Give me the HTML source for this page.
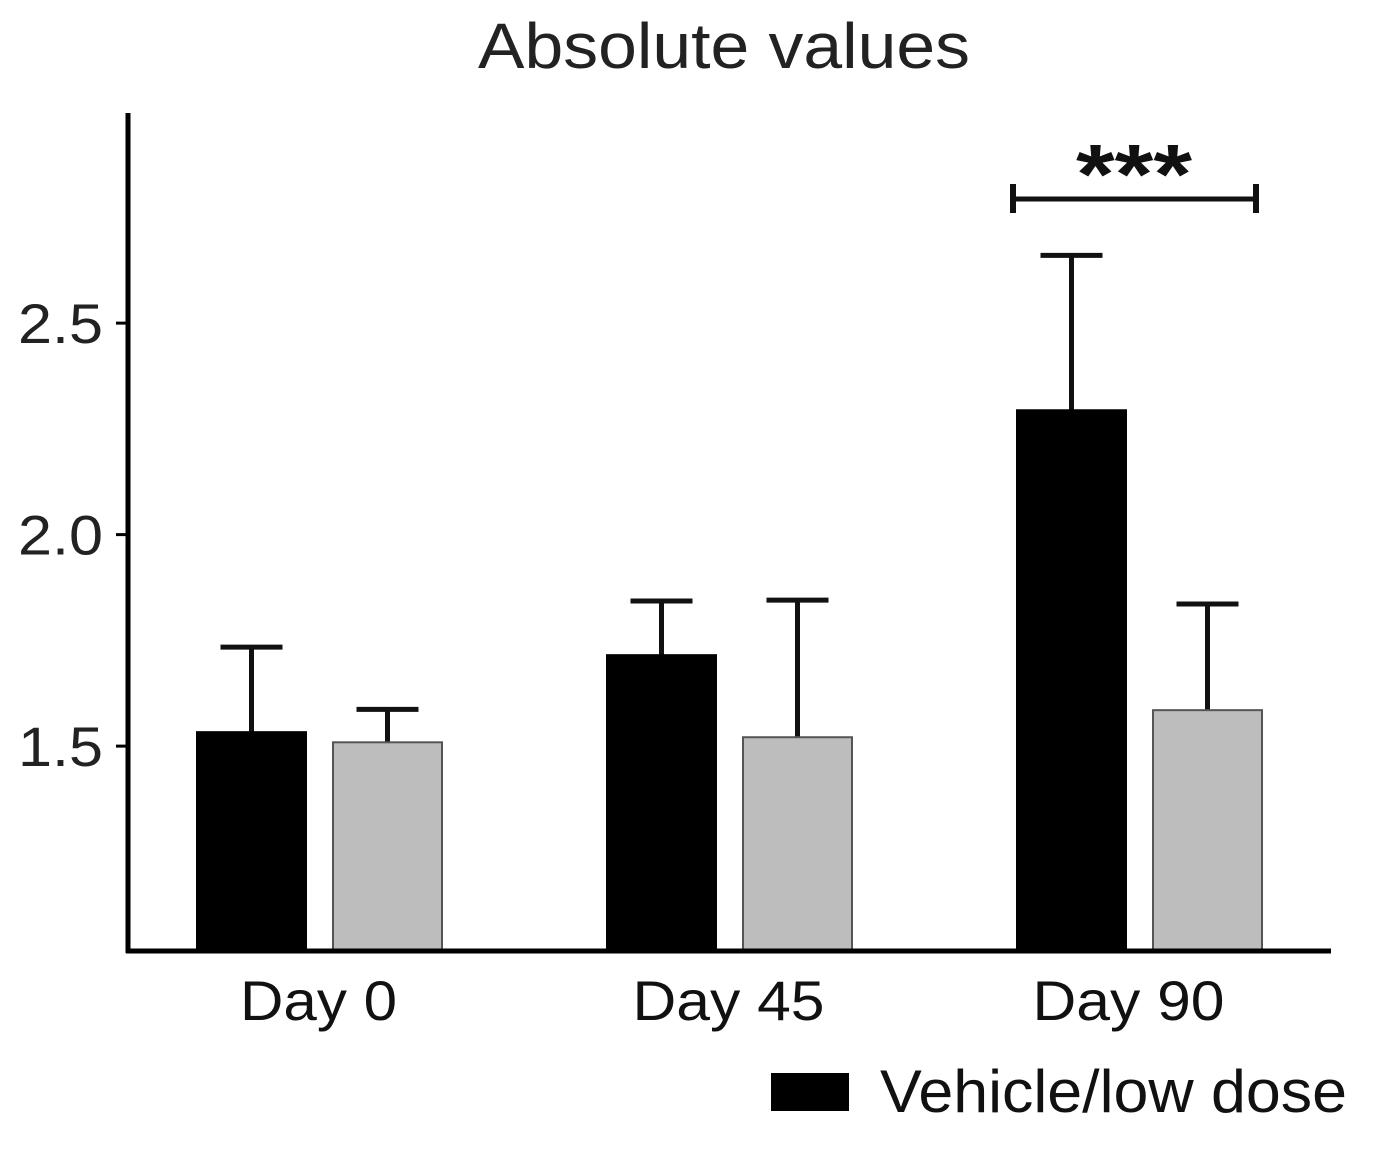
<!DOCTYPE html>
<html><head><meta charset="utf-8"><style>
body{margin:0;background:#fff}
svg{display:block;font-family:"Liberation Sans",Arial,sans-serif}
</style></head><body>
<svg id="chart" width="1378" height="1154" viewBox="0 0 1378 1154">
<text x="478" y="68" font-size="64" textLength="492" lengthAdjust="spacingAndGlyphs" fill="#222">Absolute values</text>
<g id="bars"></g>
<g id="axes"></g>
<g>
<line x1="1012" y1="199" x2="1257" y2="199" stroke="#111" stroke-width="5"/>
<line x1="1013" y1="184" x2="1013" y2="213" stroke="#111" stroke-width="6"/>
<line x1="1256" y1="184" x2="1256" y2="213" stroke="#111" stroke-width="6"/>
<text x="1076" y="203" font-size="84" font-weight="bold" textLength="116" lengthAdjust="spacingAndGlyphs" fill="#111">***</text>
</g>
<g>
<rect x="771" y="1073" width="78" height="38" fill="#000"/>
<text x="880" y="1112" font-size="60" textLength="467" lengthAdjust="spacingAndGlyphs" fill="#111">Vehicle/low dose</text>
</g>
</svg>
<script>
const categories=["Day 0","Day 45","Day 90"];
const vehicleValues=[1.533,1.715,2.294];
const vehicleErrors=[0.201,0.128,0.366];
const highValues=[1.509,1.521,1.585];
const highErrors=[0.078,0.324,0.251];
const yTicks=[1.5,2.0,2.5];
const yTickLabels=["1.5","2.0","2.5"];

const NS="http://www.w3.org/2000/svg";
const yMin=1.018, y0px=950, pxPerUnit=423;
function yScale(v){return y0px-(v-yMin)*pxPerUnit;}
const groupStart=197, groupStep=410, barW=109, barGap=136;
function xBar(i,s){return groupStart+i*groupStep+s*barGap;}
function mk(tag,attrs,parent){const e=document.createElementNS(NS,tag);for(const k in attrs)e.setAttribute(k,attrs[k]);parent.appendChild(e);return e;}
const bars=document.getElementById('bars');
const axes=document.getElementById('axes');
const series=[[vehicleValues,vehicleErrors,"#000","#000","vehicle"],[highValues,highErrors,"#bdbdbd","#555","high-dose"]];
categories.forEach((c,i)=>{
  series.forEach((s,si)=>{
    const x=xBar(i,si), v=s[0][i], e=s[1][i];
    const cx=x+barW/2, top=yScale(v+e);
    const el=mk('line',{x1:cx,y1:yScale(v),x2:cx,y2:top,stroke:"#111","stroke-width":5},bars);
    
    
    const cap=mk('line',{x1:cx-31,y1:top,x2:cx+31,y2:top,stroke:"#111","stroke-width":5},bars);
    
    
    const r=mk('rect',{x:x,y:yScale(v),width:barW,height:y0px-yScale(v),fill:s[2],stroke:s[3],"stroke-width":2},bars);
    
    
  });
  const w=c.length===5?157:192;
  const cxl=xBar(i,0)+(barGap+barW)/2-1-(i===2?10:0);
  const t=mk('text',{x:cxl-w/2,y:1020,"font-size":56,textLength:w,lengthAdjust:"spacingAndGlyphs",fill:"#111"},axes);
  t.textContent=c;
  
  
});
const ya=mk('line',{x1:128,y1:113,x2:128,y2:953,stroke:"#000","stroke-width":5},axes);


const xa=mk('line',{x1:126,y1:951,x2:1331,y2:951,stroke:"#000","stroke-width":5},axes);


yTicks.forEach((v,i)=>{
  const y=yScale(v);
  const tk=mk('line',{x1:116,y1:y,x2:128,y2:y,stroke:"#000","stroke-width":3},axes);
  
  
  const t=mk('text',{x:18,y:y+20,"font-size":56,textLength:85,lengthAdjust:"spacingAndGlyphs",fill:"#222"},axes);
  t.textContent=yTickLabels[i];
  
  
});
</script>
</body></html>
